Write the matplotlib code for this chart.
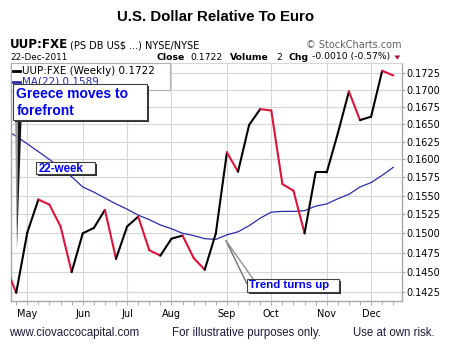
import matplotlib
matplotlib.use("Agg")
import matplotlib.pyplot as plt
from matplotlib.patches import Rectangle, Polygon
from matplotlib.lines import Line2D
from matplotlib.ticker import FixedLocator, FixedFormatter, NullLocator
import pandas as pd

# ---------------- data ----------------
week_start = "2011-04-18"
n_weeks = 36
close = [0.1459, 0.1424, 0.1501, 0.1545, 0.1538, 0.1509, 0.1450, 0.1500, 0.1507,
         0.1531, 0.1467, 0.1509, 0.1522, 0.1478, 0.1471, 0.1493, 0.1497, 0.1468,
         0.1453, 0.1500, 0.1610, 0.1583, 0.1649, 0.1672, 0.1670, 0.1566, 0.1557,
         0.1500, 0.1582, 0.1582, 0.1637, 0.1698, 0.1656, 0.1661, 0.1729, 0.1722]
ma22 = [0.1642, 0.1633, 0.1622, 0.1611, 0.1600, 0.1588, 0.1576, 0.1562, 0.1555,
        0.1547, 0.1539, 0.1532, 0.1524, 0.1518, 0.1511, 0.1506, 0.1500, 0.1497,
        0.1493, 0.1492, 0.1498, 0.1502, 0.1510, 0.1520, 0.1528, 0.1529, 0.1529,
        0.1530, 0.1536, 0.1539, 0.1546, 0.1552, 0.1562, 0.1568, 0.1578, 0.1589]
y_ticks = [0.1425, 0.1450, 0.1475, 0.1500, 0.1525, 0.1550, 0.1575, 0.1600,
           0.1625, 0.1650, 0.1675, 0.1700, 0.1725]
title = "U.S. Dollar Relative To Euro"

dates = pd.date_range(week_start, periods=n_weeks, freq="7D")
xs = list(range(-2, n_weeks - 2))

W, H = 455, 354
fig = plt.figure(figsize=(W / 100, H / 100), dpi=100)
fig.patch.set_facecolor("white")

def fx(x):
    return x / W

def fy(y):
    return 1 - y / H

L, R, T, B = 11, 401.7, 63, 301
ax = fig.add_axes([fx(L), fy(B), (R - L) / W, (B - T) / H])
ax.set_yscale("log")
ax.set_ylim(0.14138, 0.17408)
ax.set_xlim(-1.47, 33.76)

RED = "#dc143c"
for i in range(len(close) - 1):
    c = RED if close[i + 1] < close[i] else "black"
    ax.plot(xs[i:i + 2], close[i:i + 2], color=c, lw=1.5, solid_capstyle="round", zorder=3)
ax.plot(xs, ma22, color="#2b2ba8", lw=0.9, zorder=2)

# ticks
month_pos, month_lab = [], []
for i in range(1, len(dates)):
    if dates[i].month != dates[i - 1].month:
        month_pos.append(xs[i])
        month_lab.append(dates[i].strftime("%b"))
ax.xaxis.set_major_locator(FixedLocator(month_pos))
ax.xaxis.set_major_formatter(FixedFormatter(month_lab))
ax.xaxis.set_minor_locator(FixedLocator(xs))
ax.yaxis.set_major_locator(FixedLocator(y_ticks))
ax.yaxis.set_major_formatter(FixedFormatter(["%.4f" % v for v in y_ticks]))
ax.yaxis.set_minor_locator(NullLocator())
ax.yaxis.tick_right()
ax.tick_params(axis="y", which="major", length=2, width=0.8, color="#a0a0a0", pad=1.5,
               labelsize=7, labelcolor="black")
ax.tick_params(axis="x", which="both", length=3, width=0.6, color="#a0a0a0", pad=2.5,
               labelsize=7)
for t in ax.get_xticklabels() + ax.get_yticklabels():
    t.set_family("DejaVu Sans")
ax.grid(True, which="major", color="#d6d6d6", lw=0.8)
ax.set_axisbelow(True)
for s in ["left", "bottom", "right"]:
    ax.spines[s].set_color("#a8a8a8")
    ax.spines[s].set_linewidth(1.0)
ax.spines["top"].set_color("#d6d6d6")
ax.spines["top"].set_linewidth(0.8)

# ---------------- header ----------------
fig.text(fx(215.5), fy(17), title, ha="center", va="center", fontsize=10.8,
         fontweight="bold", family="Liberation Sans")
fig.text(fx(10), fy(45), "UUP:FXE", ha="left", va="center", fontsize=8.6,
         fontweight="bold", family="DejaVu Sans")
fig.text(fx(69.5), fy(45.5), "(PS DB US$ ...) NYSE/NYSE", ha="left", va="center",
         fontsize=7.0, family="DejaVu Sans")
fig.text(fx(401), fy(45), "\u00a9 StockCharts.com", ha="right", va="center",
         fontsize=7.0, family="DejaVu Sans", color="#606060")
fig.text(fx(10), fy(57), "22-Dec-2011", ha="left", va="center", fontsize=6.4,
         family="DejaVu Sans")
hdr = [(156.7, "Close", True), (190.7, "0.1722", False), (230, "Volume", True),
       (276, "2", False), (288.3, "Chg", True), (312.3, "-0.0010 (-0.57%)", False)]
for x, s, b in hdr:
    fig.text(fx(x), fy(57), s, ha="left", va="center", fontsize=6.7,
             fontweight="bold" if b else "normal", family="DejaVu Sans")
fig.add_artist(Polygon([(fx(394.3), fy(55.5)), (fx(400.3), fy(55.5)), (fx(397.3), fy(59.5))],
                       closed=True, transform=fig.transFigure, color="#a01030", lw=0))

# ---------------- legend ----------------
fig.add_artist(Rectangle((fx(11), fy(90)), (170 - 11) / W, (90 - 63) / H,
                         transform=fig.transFigure, facecolor="white",
                         edgecolor="#b0b0b0", lw=0.8, zorder=2))
fig.add_artist(Line2D([fx(12.5), fx(19.5)], [fy(70.5), fy(70.5)], transform=fig.transFigure,
                      color="black", lw=2.0, zorder=3))
fig.text(fx(21.5), fy(70.5), "UUP:FXE (Weekly) 0.1722", ha="left", va="center",
         fontsize=7.5, family="DejaVu Sans", zorder=3)
fig.add_artist(Line2D([fx(12.5), fx(19.5)], [fy(81.5), fy(81.5)], transform=fig.transFigure,
                      color="#2b2ba8", lw=2.0, zorder=3))
fig.text(fx(21.5), fy(81.5), "MA(22) 0.1589", ha="left", va="center",
         fontsize=7.5, family="DejaVu Sans", color="#2b2ba8", zorder=3)

# ---------------- annotations ----------------
def callout(x0, y0, x1, y1, text, fs, tx, ty, ls=1.2):
    fig.add_artist(Rectangle((fx(x0 + 2), fy(y1 + 2)), (x1 - x0) / W, (y1 - y0) / H,
                             transform=fig.transFigure, facecolor="#303030", lw=0, zorder=5))
    fig.add_artist(Rectangle((fx(x0), fy(y1)), (x1 - x0) / W, (y1 - y0) / H,
                             transform=fig.transFigure, facecolor="white",
                             edgecolor="#404040", lw=0.8, zorder=6))
    fig.text(fx(tx), fy(ty), text, ha="left", va="center", fontsize=fs,
             fontweight="bold", family="Liberation Sans", color="#0000f0",
             linespacing=ls, zorder=7)

# Greece pointer
fig.add_artist(Polygon([(fx(15.2), fy(121)), (fx(18), fy(121)), (fx(16.7), fy(250))],
                       closed=True, transform=fig.transFigure, color="#9a9a9a", lw=0, zorder=4))
fig.add_artist(Polygon([(fx(18), fy(121)), (fx(21.5), fy(121)), (fx(16.9), fy(250))],
                       closed=True, transform=fig.transFigure, color="#151515", lw=0, zorder=4))
callout(13.3, 84.3, 146.7, 120, "Greece moves to\nforefront", 10, 16.5, 102.5, 1.22)
callout(35.7, 162.3, 95, 174.3, "22-week", 8.3, 38.3, 168.5)

# Trend pointer
for (xe, ye, c) in [(246.7, 283.3, "#707070"), (253.3, 279.3, "#909090")]:
    fig.add_artist(Line2D([fx(226), fx(xe)], [fy(240.7), fy(ye)], transform=fig.transFigure,
                          color=c, lw=1.0, zorder=4))
callout(246.7, 279, 339.3, 292, "Trend turns up", 8.2, 249.3, 285.5)

# ---------------- footer ----------------
fig.text(fx(9.3), fy(333.3), "www.ciovaccocapital.com", ha="left", va="center",
         fontsize=8.3, family="Liberation Sans", color="#1c1c3c")
fig.text(fx(172.3), fy(333.3), "For illustrative purposes only.", ha="left", va="center",
         fontsize=8.3, family="Liberation Sans", color="#1c1c3c")
fig.text(fx(352.7), fy(333.3), "Use at own risk.", ha="left", va="center",
         fontsize=8.3, family="Liberation Sans", color="#1c1c3c")

fig.savefig("out.png", dpi=100, facecolor="white")
